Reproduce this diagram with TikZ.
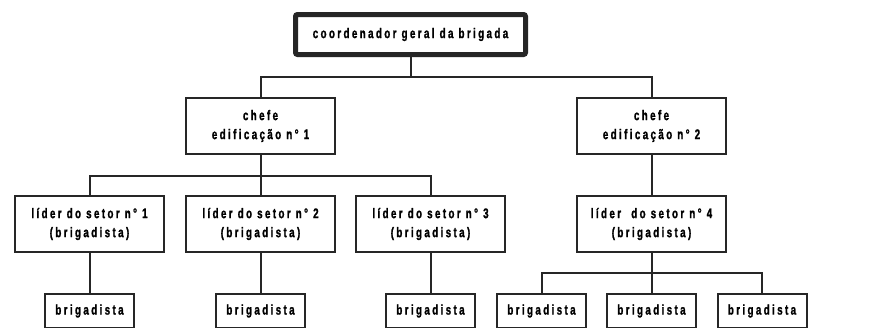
\documentclass[tikz,border=0pt]{standalone}
\usepackage{fontspec}
\newfontfamily\lbl[LetterSpace=17,FakeStretch=0.7,BoldFeatures={FakeBold=1.2}]{Liberation Sans}
\begin{document}
\begin{tikzpicture}[x=1pt,y=-1pt,
  box/.style={draw=black!85, line width=2pt, fill=white, inner sep=0pt,
    minimum width=149pt, minimum height=56pt, align=center,
    font=\fontsize{14}{19}\selectfont\lbl\bfseries, text=black},
  small/.style={box, minimum width=89pt, minimum height=34pt},
  topbox/.style={box, line width=5pt, rounded corners=2pt, minimum width=230pt, minimum height=40pt},
  conn/.style={draw=black!85, line width=2pt}]
\clip (0,0) rectangle (869,327);
\fill[white] (0,0) rectangle (869,327);
% nodes
\node[topbox] (top) at (410.5,34.5) {coordenador geral da brigada};
\node[box] (c1) at (260.5,126) {chefe\\edificação n° 1};
\node[box] (c2) at (651.5,126) {chefe\\edificação n° 2};
\node[box] (l1) at (89.5,224) {líder do setor n° 1\\(brigadista)};
\node[box] (l2) at (260.5,224) {líder do setor n° 2\\(brigadista)};
\node[box] (l3) at (430.5,224) {líder do setor n° 3\\(brigadista)};
\node[box] (l4) at (651.5,224) {líder\ \ do setor n° 4\\(brigadista)};
\node[small] (b1) at (89.5,311) {brigadista};
\node[small] (b2) at (260.5,311) {brigadista};
\node[small] (b3) at (430.5,311) {brigadista};
\node[small] (b4) at (541.5,311) {brigadista};
\node[small] (b5) at (651.5,311) {brigadista};
\node[small] (b6) at (762,311) {brigadista};
% junctions
\coordinate (j0) at (410.5,77);
\coordinate (j1) at (260.5,176);
\coordinate (j4) at (651.5,273);
% connectors
\path[conn] (top.south) -- (j0);
\path[conn] (c1.north) |- (j0) -| (c2.north);
\path[conn] (c1.south) -- (j1);
\path[conn] (l1.north) |- (j1) -| (l3.north);
\path[conn] (l2.north) -- (j1);
\path[conn] (c2.south) -- (l4.north);
\path[conn] (l1.south) -- (b1.north);
\path[conn] (l2.south) -- (b2.north);
\path[conn] (l3.south) -- (b3.north);
\path[conn] (l4.south) -- (j4);
\path[conn] (b4.north) |- (j4) -| (b6.north);
\path[conn] (b5.north) -- (j4);
\end{tikzpicture}
\end{document}
